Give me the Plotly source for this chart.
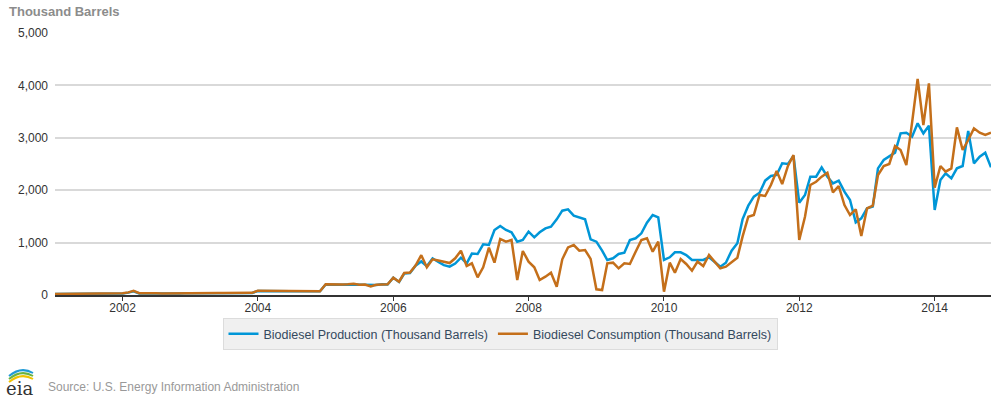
import pandas as pd
import plotly.graph_objects as go

# Monthly values, Jan 2001 - Nov 2014 (thousand barrels)
production = [
    20, 22, 21, 23, 22, 24, 23, 25, 24, 26, 25, 27,            # 2001
    30, 45, 70, 30, 28, 30, 32, 29, 31, 30, 29, 32,            # 2002
    33, 35, 34, 36, 35, 37, 36, 38, 37, 39, 38, 40,            # 2003
    75, 72, 74, 70, 72, 73, 71, 70, 72, 69, 71, 70,            # 2004
    200, 195, 198, 195, 200, 196, 202, 195, 185, 192, 205, 200,  # 2005
    330, 250, 410, 420, 560, 640, 550, 700, 630, 570, 540, 600,  # 2006
    712, 604, 790, 782, 967, 954, 1240, 1317, 1240, 1196, 1018, 1050,  # 2007
    1209, 1100, 1196, 1272, 1304, 1444, 1609, 1634, 1514, 1476, 1444, 1062,  # 2008
    1018, 846, 668, 700, 782, 808, 1050, 1082, 1177, 1380, 1527, 1482,  # 2009
    668, 719, 815, 815, 763, 668, 668, 668, 719, 636, 541, 617,  # 2010
    846, 986, 1443, 1705, 1877, 1953, 2182, 2271, 2290, 2513, 2500, 2653,  # 2011
    1762, 1908, 2258, 2258, 2437, 2258, 2131, 2182, 1972, 1813, 1387, 1463,  # 2012
    1654, 1686, 2417, 2577, 2640, 2717, 3085, 3097, 3022, 3276, 3085, 3231,  # 2013
    1622, 2195, 2322, 2226, 2417, 2462, 3130, 2513, 2640, 2716, 2437,  # 2014
]
consumption = [
    20, 22, 21, 23, 22, 24, 23, 25, 24, 26, 25, 27,            # 2001
    32, 50, 80, 35, 30, 32, 34, 30, 32, 33, 31, 34,            # 2002
    36, 37, 35, 38, 37, 39, 38, 40, 39, 41, 40, 42,            # 2003
    82, 80, 78, 76, 77, 75, 74, 72, 73, 70, 72, 71,            # 2004
    205, 200, 205, 200, 205, 215, 195, 200, 165, 195, 200, 205,  # 2005
    330, 254, 420, 430, 560, 760, 530, 680, 660, 640, 610, 700,  # 2006
    846, 553, 604, 337, 528, 903, 617, 1069, 1018, 1050, 286, 840,  # 2007
    636, 528, 286, 350, 426, 159, 681, 909, 954, 846, 859, 690,  # 2008
    108, 95, 605, 617, 509, 605, 592, 827, 1050, 1082, 827, 1018,  # 2009
    64, 617, 426, 687, 592, 464, 636, 553, 763, 636, 509, 541,  # 2010
    636, 712, 1113, 1494, 1527, 1908, 1890, 2099, 2367, 2118, 2462, 2672,  # 2011
    1050, 1494, 2099, 2162, 2258, 2334, 1960, 2080, 1717, 1527, 1635, 1126,  # 2012
    1654, 1705, 2290, 2462, 2500, 2843, 2767, 2481, 3290, 4122, 3244, 4040,  # 2013
    2048, 2462, 2354, 2417, 3200, 2767, 2958, 3180, 3097, 3053, 3097,  # 2014
]
dates = pd.date_range("2001-01-01", periods=len(production), freq="MS")

tick_years = ["2002", "2004", "2006", "2008", "2010", "2012", "2014"]
y_ticks = [0, 1000, 2000, 3000, 4000, 5000]
y_tick_labels = ["0", "1,000", "2,000", "3,000", "4,000", "5,000"]

W, H = 1002, 402
L, R, T, B = 55, 11, 33, 107
PW, PH = W - L - R, H - T - B


def px(x):  # page pixel -> paper
    return (x - L) / PW


def py(y):
    return (H - B - y) / PH


BLUE = "#0096d7"
ORANGE = "#c46f1a"
FONT = "Liberation Sans, Arial, sans-serif"

fig = go.Figure()
fig.add_trace(go.Scatter(x=dates, y=production, mode="lines",
                         name="Biodiesel Production (Thousand Barrels)",
                         line=dict(color=BLUE, width=2.5)))
fig.add_trace(go.Scatter(x=dates, y=consumption, mode="lines",
                         name="Biodiesel Consumption (Thousand Barrels)",
                         line=dict(color=ORANGE, width=2.5)))

fig.update_layout(
    width=W, height=H,
    margin=dict(l=L, r=R, t=T, b=B),
    paper_bgcolor="white", plot_bgcolor="white",
    font=dict(family=FONT, size=12, color="#333333"),
    showlegend=True,
    legend=dict(orientation="h", x=px(500), xanchor="center",
                y=py(318), yanchor="top",
                bgcolor="#f0f0f0", bordercolor="#dcdcdc", borderwidth=1,
                font=dict(family=FONT, size=12.5, color="#34495e"),
                itemwidth=30),
    xaxis=dict(type="date", range=[dates[0], dates[-1]],
               tickvals=[pd.Timestamp(y + "-01-01") for y in tick_years],
               ticktext=tick_years,
               showgrid=False, showline=True, linecolor="#333333", linewidth=1.5,
               ticks="outside", ticklen=4, tickcolor="#333333", tickwidth=1,
               ticklabelstandoff=-3,
               tickfont=dict(size=12, color="#333333")),
    yaxis=dict(range=[0, 5000], tickvals=y_ticks, ticktext=y_tick_labels,
               showgrid=True, gridcolor="#d9d9d9", gridwidth=1.5,
               zeroline=False, showline=False, ticks="",
               ticklabelstandoff=6,
               tickfont=dict(size=12, color="#333333")),
)

fig.add_annotation(text="<b>Thousand Barrels</b>", xref="paper", yref="paper",
                   x=px(7), y=py(12), xanchor="left", yanchor="middle",
                   showarrow=False, font=dict(family=FONT, size=13, color="#8c8c8c"))
fig.add_annotation(text="Source: U.S. Energy Information Administration",
                   xref="paper", yref="paper", x=px(46), y=py(387),
                   xanchor="left", yanchor="middle", showarrow=False,
                   font=dict(family=FONT, size=12, color="#999999"))
fig.add_annotation(text="eia", xref="paper", yref="paper", x=px(4), y=py(388),
                   xanchor="left", yanchor="middle", showarrow=False,
                   font=dict(family="DejaVu Serif, serif", size=18, color="#333333"))

# logo arcs
for (c, dy) in [("#f2c300", 0), ("#6cb33f", 3), ("#1f9ad6", 6)]:
    fig.add_shape(type="path", xref="paper", yref="paper",
                  path=f"M {px(9)} {py(382 - dy)} Q {px(21)} {py(372 - dy)} {px(33)} {py(379 - dy)}",
                  line=dict(color=c, width=2))

fig.write_html("out.html", config={"displayModeBar": False},
               post_script="document.body.style.margin='0';document.body.style.overflow='hidden';")
